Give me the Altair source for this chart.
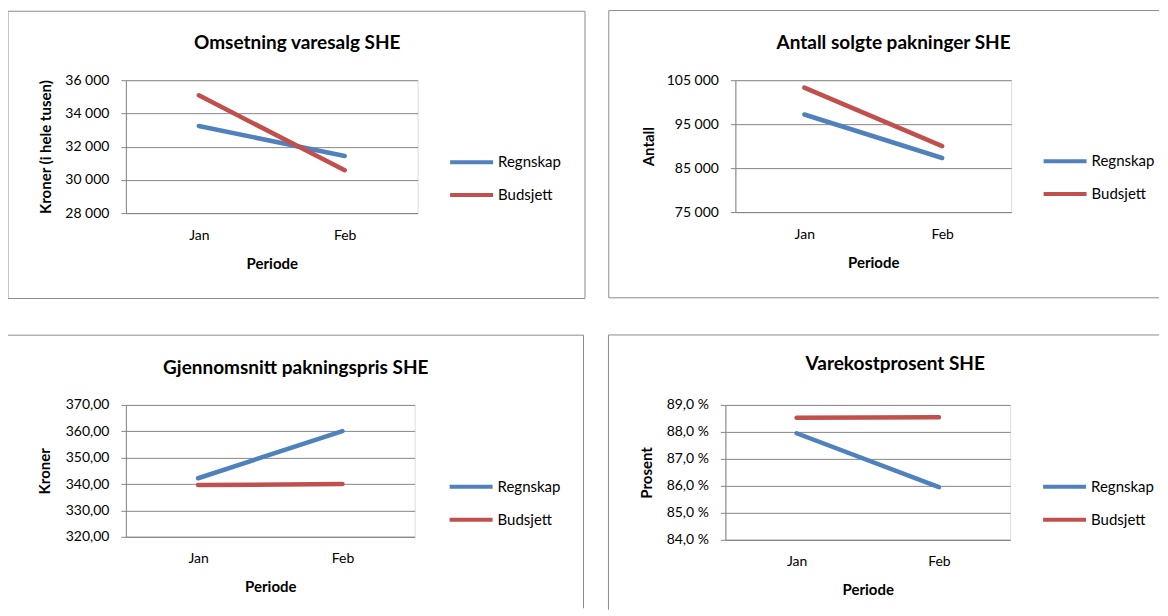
import altair as alt
import pandas as pd

# ---------------- data ----------------
months = ["Jan", "Feb"]
series = ["Regnskap", "Budsjett"]
colors = ["#4F81BD", "#C0504D"]

omsetning_regnskap = [33240, 31440]
omsetning_budsjett = [35090, 30580]
antall_regnskap = [97200, 87300]
antall_budsjett = [103300, 90000]
pris_regnskap = [342.2, 360.1]
pris_budsjett = [339.6, 340.0]
varekost_regnskap = [87.95, 85.95]
varekost_budsjett = [88.52, 88.54]

ticks_omsetning = [28000, 30000, 32000, 34000, 36000]
ticks_antall = [75000, 85000, 95000, 105000]
ticks_pris = [320, 330, 340, 350, 360, 370]
ticks_varekost = [84, 85, 86, 87, 88, 89]

chart_titles = [
    "Omsetning varesalg SHE",
    "Antall solgte pakninger SHE",
    "Gjennomsnitt pakningspris SHE",
    "Varekostprosent SHE",
]
y_titles = ["Kroner (i hele tusen)", "Antall", "Kroner", "Prosent"]
x_title = "Periode"

# ---------------- style ----------------
FONT = "Lato"
GRID = "#868686"
FRAME = "#8c8c8c"

expr_thousands = "replace(format(datum.value, ',d'), ',', ' ')"
expr_two_dec = "replace(format(datum.value, '.2f'), '.', ',')"
expr_pct = "replace(format(datum.value, '.1f'), '.', ',') + ' %'"


def edge(x, y, x2=None, y2=None):
    enc = dict(x=alt.value(x), y=alt.value(y))
    if x2 is not None:
        enc["x2"] = alt.value(x2)
    if y2 is not None:
        enc["y2"] = alt.value(y2)
    return (
        alt.Chart(pd.DataFrame({"k": [0]}))
        .mark_rule(color=FRAME, strokeWidth=1)
        .encode(**enc)
    )


def panel(reg, bud, ticks, label_expr, title, ytitle, w, h, title_x, title_y,
          ytitle_x, leg_x, leg_y, frame, show_right=True, show_bottom=True):
    df = pd.DataFrame({
        "Periode": months * 2,
        "Serie": [series[0]] * len(months) + [series[1]] * len(months),
        "Verdi": list(reg) + list(bud),
    })
    lines = alt.Chart(df).mark_line(strokeWidth=4.5, strokeCap="round").encode(
        x=alt.X(
            "Periode:N", sort=months,
            scale=alt.Scale(type="point", padding=0.5),
            axis=alt.Axis(
                title=x_title, labelAngle=0, ticks=False, tickSize=0,
                labelPadding=22, labelBaseline="middle", labelFontSize=14,
                labelColor="black", titleX=w / 2, titleY=50,
                titleBaseline="middle", titleFontSize=15,
                titleFontWeight="bold", titleColor="black",
                domainColor=GRID, grid=False,
            ),
        ),
        y=alt.Y(
            "Verdi:Q",
            scale=alt.Scale(domain=[ticks[0], ticks[-1]], nice=False, zero=False),
            axis=alt.Axis(
                values=ticks, labelExpr=label_expr, title=ytitle,
                titleFontSize=15, titleFontWeight="bold", titleColor="black",
                titleX=ytitle_x, titleY=h / 2, titleAngle=270,
                titleAlign="center", titleBaseline="middle",
                labelFontSize=14, labelColor="black", tickSize=5,
                labelPadding=12, grid=True, gridColor=GRID, domainColor=GRID,
                tickColor=GRID,
            ),
        ),
        color=alt.Color(
            "Serie:N", sort=series,
            scale=alt.Scale(domain=series, range=colors),
            legend=alt.Legend(
                title=None, orient="none", legendX=leg_x, legendY=leg_y,
                symbolType="M-2,0H2", symbolSize=462, symbolStrokeWidth=4,
                labelFontSize=15, labelFont=FONT, labelColor="black",
                labelOffset=13.5, rowPadding=12, padding=0,
            ),
        ),
    )
    heading = (
        alt.Chart(pd.DataFrame({"t": [title]}))
        .mark_text(fontSize=19, font=FONT, fontWeight="bold", color="black",
                   align="center", baseline="alphabetic")
        .encode(text="t:N", x=alt.value(title_x), y=alt.value(title_y))
    )
    l, t, r, b = frame
    parts = [edge(l, t, y2=b), edge(l, t, x2=r)]   # left, top
    if show_right:
        parts.append(edge(r, t, y2=b))
    if show_bottom:
        parts.append(edge(l, b, x2=r))
    parts += [heading, lines]
    return alt.layer(*parts).properties(width=w, height=h)


p1 = panel(omsetning_regnskap, omsetning_budsjett, ticks_omsetning,
           expr_thousands, chart_titles[0], y_titles[0], 292, 133, 171.5, -31.7,
           -80.5, 333, 69, (-118, -69, 459.5, 218.5))
p2 = panel(antall_regnskap, antall_budsjett, ticks_antall,
           expr_thousands, chart_titles[1], y_titles[1], 276, 132, 158.3, -31.7,
           -86.7, 317, 68, (-126.7, -69.7, 424, 217.8), show_right=False)
p3 = panel(pris_regnskap, pris_budsjett, ticks_pris,
           expr_two_dec, chart_titles[2], y_titles[2], 289, 132, 170, -31.3,
           -81, 332.5, 69, (-118.5, -69.8, 458, 203.5), show_bottom=False)
p4 = panel(varekost_regnskap, varekost_budsjett, ticks_varekost,
           expr_pct, chart_titles[3], y_titles[3], 285, 135, 170, -35,
           -79, 326.5, 69, (-117, -70, 434, 205),
           show_right=False, show_bottom=False)

chart = (
    alt.concat(p1, p2, p3, p4, columns=2, spacing={"row": 34, "column": 21},
               align="none", bounds="full")
    .resolve_scale(x="independent", y="independent", color="independent")
    .resolve_legend(color="independent")
    .properties(padding={"left": -2, "top": 1, "right": 0, "bottom": 0})
    .configure_view(strokeWidth=0)
    .configure(font=FONT, background="white")
)

chart.save("out.html", embed_options={"renderer": "svg", "actions": False})
